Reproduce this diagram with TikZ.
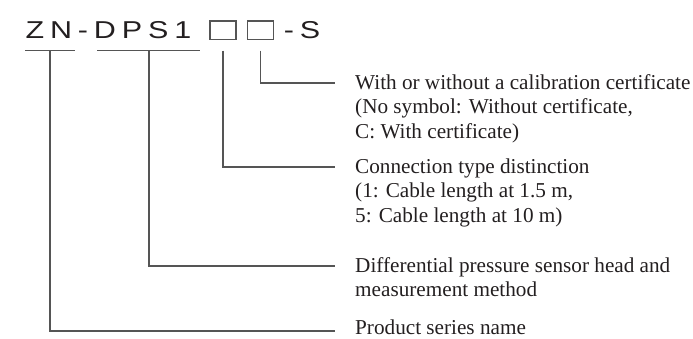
\documentclass[tikz,border=0pt]{standalone}
\usepackage{fontspec}
\setmainfont{Liberation Serif}
\newfontfamily\titlefont[FakeStretch=1.25,LetterSpace=24]{Liberation Sans}
\definecolor{ink}{HTML}{231F20}
\definecolor{rule}{HTML}{555555}
\begin{document}
\begin{tikzpicture}[x=1pt,y=-1pt,
  lead/.style={draw=rule,line width=1.4pt},
  desc/.style={anchor=base west,inner sep=0pt,align=left,text=ink,
    font=\fontsize{21.2}{24.8}\selectfont},
  code/.style={anchor=base west,inner sep=0pt,text=ink,
    font=\titlefont\fontsize{24.4}{28}\selectfont},
  slot/.style={draw=rule,line width=1.1pt,inner sep=0pt,
    minimum width=26pt,minimum height=18.5pt}]
\useasboundingbox (0,0) rectangle (693,338);
% code string
\node[code] (c1) at (25.4,38.3) {ZN-DPS1};
\node[slot] (b1) at (223,30.25) {};
\node[slot] (b2) at (260.5,30.25) {};
\node[code] (c2) at (283.7,38.3) {-S};
% underlines
\coordinate (u1l) at (25,50.5);
\coordinate (u1r) at (75,50.5);
\coordinate (u2l) at (97,50.5);
\coordinate (u2r) at (200,50.5);
\draw[lead] (u1l) -- (u1r);
\draw[lead] (u2l) -- (u2r);
% leader start points
\coordinate (t1) at (50,50.5);
\coordinate (t2) at (149,50.5);
\coordinate (t3) at (223,50.5);
\coordinate (t4) at (260.5,50.5);
% leader end points
\coordinate (e1) at (335,331);
\coordinate (e2) at (335,266);
\coordinate (e3) at (335,167);
\coordinate (e4) at (335,83);
\draw[lead] (t1) |- (e1);
\draw[lead] (t2) |- (e2);
\draw[lead] (t3) |- (e3);
\draw[lead] (t4) |- (e4);
% descriptions (base anchor = last line)
\node[desc] (d4) at (355,138.6) {With or without a calibration certificate\\(No symbol: Without certificate,\\C: With certificate)};
\node[desc] (d3) at (355,222.6) {Connection type distinction\\(1: Cable length at 1.5 m,\\5: Cable length at 10 m)};
\node[desc] (d2) at (355,296.8) {Differential pressure sensor head and\\measurement method};
\node[desc] (d1) at (355,334) {Product series name};
\end{tikzpicture}
\end{document}
